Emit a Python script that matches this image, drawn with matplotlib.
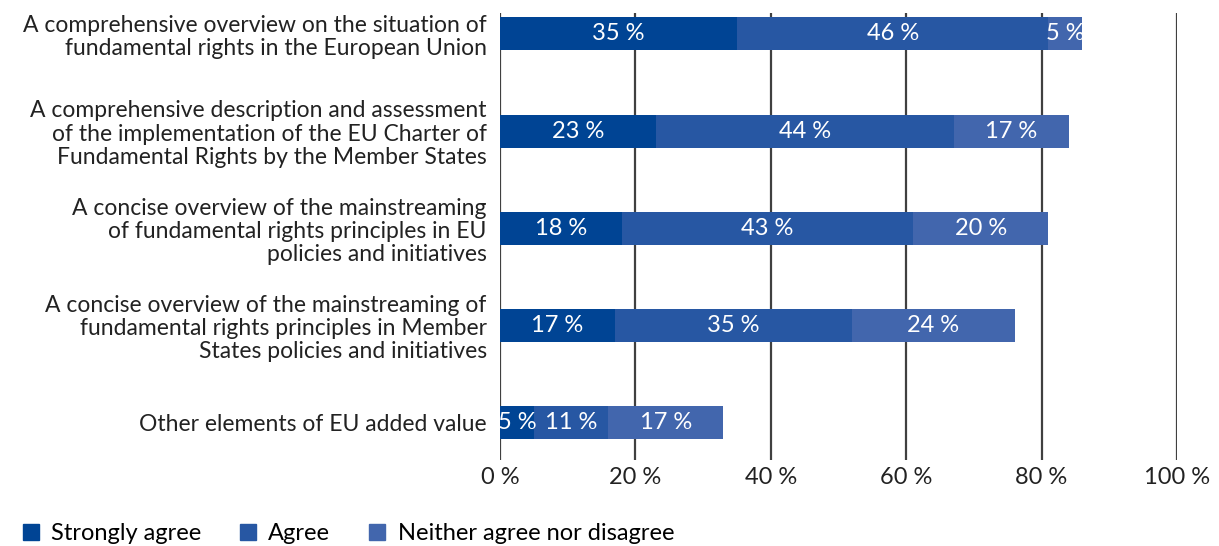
import matplotlib
matplotlib.use("Agg")
import matplotlib.pyplot as plt
from matplotlib.lines import Line2D
import numpy as np

plt.rcParams['font.family'] = ['Lato', 'DejaVu Sans']

# Data
categories = [
    "A comprehensive overview on the situation of\nfundamental rights in the European Union",
    "A comprehensive description and assessment\nof the implementation of the EU Charter of\nFundamental Rights by the Member States",
    "A concise overview of the mainstreaming\nof fundamental rights principles in EU\npolicies and initiatives",
    "A concise overview of the mainstreaming of\nfundamental rights principles in Member\nStates policies and initiatives",
    "Other elements of EU added value",
]
strongly_agree = [35, 23, 18, 17, 5]
agree = [46, 44, 43, 35, 11]
neither = [5, 17, 20, 24, 17]

series_names = ["Strongly agree", "Agree", "Neither agree nor disagree"]
colors = ["#004494", "#2757a3", "#4266ad"]

fig = plt.figure(figsize=(12.19, 5.46), dpi=100)
ax = fig.add_axes([500/1219, 1-460/546, 677/1219, 447/546])

y = np.arange(len(categories))
left = np.zeros(len(categories))
for vals, name, c in zip([strongly_agree, agree, neither], series_names, colors):
    vals = np.array(vals)
    ax.barh(y, vals, left=left, height=0.34, color=c, zorder=3, label=name)
    for yi, l, v in zip(y, left, vals):
        ax.text(l + v/2, yi, f"{v} %", ha='center', va='center', color='white',
                fontsize=17, zorder=4)
    left = left + vals

ax.set_xlim(0, 100)
ax.set_ylim(4 + 0.39, -0.216)
ax.set_xticks(np.arange(0, 101, 20))
ax.set_xticklabels([f"{t} %" for t in range(0, 101, 20)], fontsize=17, color='#222222')
ax.set_yticks(y)
ax.set_yticklabels(categories, fontsize=16.5, color='#222222', linespacing=1.12)
ax.tick_params(axis='x', length=0, pad=5)
ax.tick_params(axis='y', length=0, pad=9.5)
ax.grid(axis='x', color='#404040', linewidth=1.6, zorder=0)
for s in ax.spines.values():
    s.set_visible(False)

handles = [Line2D([], [], marker='s', linestyle='none', markersize=11, color=c) for c in colors]
fig.legend(handles, series_names, loc='lower left', bbox_to_anchor=(-0.002, -0.035),
           ncol=3, frameon=False, fontsize=17, handletextpad=0.35, columnspacing=1.5,
           handlelength=1.0)

fig.savefig("out.png", dpi=100)
